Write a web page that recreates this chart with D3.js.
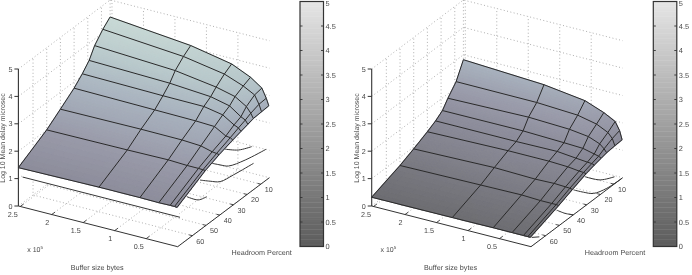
<!DOCTYPE html>
<html>
<head>
<meta charset="utf-8">
<script src="https://cdn.jsdelivr.net/npm/d3@7/dist/d3.min.js"></script>
<style>
  html, body { margin: 0; padding: 0; background: #fff; }
  svg { display: block; will-change: transform; }
  text { font-family: "Liberation Sans", Arial, sans-serif; fill: #4a4a4a; text-rendering: geometricPrecision; }
</style>
</head>
<body>
<svg id="chart" width="692" height="275"></svg>
<script>
// Buffer size in units of 10^5 bytes, headroom in percent
const bufferValues = [2.53, 1.25, 0.6, 0.3, 0.12, 0.05, 0.01];
const headroomValues = [70.7, 50, 40, 30, 24, 19, 15, 9, 3.7];

// Log10 mean delay: one row per buffer value, one entry per headroom value
const delayHigh = [
  [1.40, 2.00, 2.38, 2.77, 3.07, 3.37, 3.76, 4.13, 4.38],
  [1.44, 2.02, 2.40, 2.73, 3.02, 3.29, 3.60, 3.89, 4.09],
  [1.44, 2.04, 2.39, 2.71, 3.01, 3.18, 3.38, 3.63, 3.80],
  [1.43, 2.01, 2.35, 2.68, 2.88, 3.02, 3.21, 3.37, 3.49],
  [1.44, 2.01, 2.24, 2.44, 2.62, 2.73, 2.95, 3.15, 3.20],
  [1.44, 2.00, 2.22, 2.42, 2.55, 2.65, 2.75, 2.85, 2.87],
  [1.43, 2.00, 2.20, 2.36, 2.45, 2.52, 2.58, 2.60, 2.62]
];
const delayLow = [
  [0.32, 0.70, 0.93, 1.18, 1.35, 1.54, 1.84, 2.22, 2.82],
  [0.33, 0.74, 1.00, 1.24, 1.35, 1.55, 1.90, 2.21, 2.66],
  [0.34, 0.76, 0.96, 1.24, 1.37, 1.50, 1.84, 2.13, 2.46],
  [0.34, 0.73, 0.98, 1.21, 1.30, 1.47, 1.75, 1.98, 2.20],
  [0.34, 0.73, 0.96, 1.16, 1.26, 1.37, 1.59, 1.78, 1.98],
  [0.34, 0.73, 0.95, 1.15, 1.25, 1.33, 1.45, 1.60, 1.69],
  [0.34, 0.72, 0.93, 1.13, 1.22, 1.28, 1.33, 1.36, 1.38]
];

// Second mesh underneath, visible only where it leaves the upper surface
const lowerCurvesHigh = [
  { buffer: [2.5, 0], headroom: [69, 69], delay: [1.01, 1.01] },
  { buffer: [0, 0, 0], headroom: [64.1, 55.6, 49.5], delay: [1.58, 1.14, 1.03] },
  { buffer: [0, 0, 0, 0, 0], headroom: [54.4, 47, 39.7, 30, 15.3], delay: [1.82, 1.50, 1.21, 1.09, 0.96] },
  { buffer: [0, 0, 0, 0, 0], headroom: [45.8, 39.7, 33.6, 21.4, 6.1], delay: [2.11, 1.82, 1.55, 1.31, 1.13] },
  { buffer: [0, 0, 0], headroom: [36.1, 26.3, 16.6], delay: [2.26, 1.86, 1.62] }
];
const lowerCurvesLow = [
  { buffer: [0, 0], headroom: [70.2, 64.6], delay: [0.32, 0.13] },
  { buffer: [0, 0, 0], headroom: [51.9, 45.8, 39.7], delay: [0.63, 0.28, 0] },
  { buffer: [0, 0, 0, 0, 0], headroom: [39.7, 32.4, 25.1, 15.3, 4.4], delay: [0.91, 0.55, 0.23, 0.05, 0] },
  { buffer: [0, 0, 0], headroom: [31.2, 20.2, 9.7], delay: [1.07, 0.54, 0.26] }
];

const bufferTicks = [2.5, 2, 1.5, 1, 0.5];
const headroomTicks = [10, 20, 30, 40, 50, 60];
const delayTicks = [0, 1, 2, 3, 4, 5];
const colorbarTicks = [0, 0.5, 1, 1.5, 2, 2.5, 3, 3.5, 4, 4.5, 5];

const bufferLabel = "Buffer size bytes";
const headroomLabel = "Headroom Percent";
const delayLabel = "Log 10 Mean delay microsec";

const surfaceColor = d3.scaleLinear()
  .domain([0, 0.3, 1, 1.4, 2, 2.8, 3.5, 4.4])
  .range(["#666666", "#6c6c70", "#82828c", "#8c8c9a", "#999aa9", "#a9b3bf", "#b8c8cb", "#c9dad6"]);
const barColor = d3.scaleLinear().domain([0, 5]).range(["#5c5c5c", "#e6e6e6"]);

const svg = d3.select("#chart");
const INK = "#2a2a2a";

// Normalised position inside the plot box along each data axis
const uScale = d3.scaleLinear().domain([0, 2.53]).range([0, 1]);
const vScale = d3.scaleLinear().domain([70.7, 3.7]).range([0, 1]);
const wScale = d3.scaleLinear().domain([0, 5]).range([0, 1]);

function drawPanel(originX, delay, lowerCurves, strip) {
  const g = svg.append("g");

  // Oblique projection of the box; originX is the near floor corner
  const project = (b, h, z) => {
    const u = uScale(b), v = vScale(h), w = wScale(z);
    return [
      originX - 159.3 * u + 91.7 * v,
      246.7 - 40.7 * u - 69 * v - 137 * w
    ];
  };
  const path = d3.line();

  // Dotted box grid on the floor and the two rear walls
  const bMax = uScale.domain()[1], hNear = vScale.domain()[0], hFar = vScale.domain()[1], zTop = wScale.domain()[1];
  const dotted = pts => g.append("path").attr("d", path(pts)).attr("fill", "none")
    .attr("stroke", "#9a9a9a").attr("stroke-width", 0.8).attr("stroke-dasharray", "1 2.4");

  bufferTicks.forEach(b => {
    dotted([project(b, hNear, 0), project(b, hFar, 0), project(b, hFar, zTop)]);
  });
  headroomTicks.forEach(h => {
    dotted([project(0, h, 0), project(bMax, h, 0), project(bMax, h, zTop)]);
  });
  delayTicks.forEach(z => {
    dotted([project(bMax, hNear, z), project(bMax, hFar, z), project(0, hFar, z)]);
  });
  dotted([project(bMax, hFar, 0), project(bMax, hFar, zTop)]);
  dotted([project(0, hNear, 0), project(0, hFar, 0)]);

  // White band between the upper surface and the mesh below it
  if (strip) {
    const front = bufferValues.map((b, i) => project(b, headroomValues[0], delay[i][0]));
    const low = strip.buffer.map((b, i) => project(b, strip.headroom[i], strip.delay[i]));
    g.append("path").attr("d", path(front.concat(low.slice().reverse())) + "Z").attr("fill", "#fff");
  }

  lowerCurves.forEach(c => {
    const pts = c.buffer.map((b, i) => project(b, c.headroom[i], c.delay[i]));
    g.append("path").attr("d", d3.line().curve(pts.length > 2 ? d3.curveCatmullRom : d3.curveLinear)(pts))
      .attr("fill", "none").attr("stroke", "#333").attr("stroke-width", 1);
  });

  // Surface: each mesh cell is split into small facets coloured by height
  const steps = 8;
  const facets = g.append("g");
  const blend = (a, b, t) => a + (b - a) * t;
  for (let j = headroomValues.length - 2; j >= 0; j--) {
    for (let i = bufferValues.length - 2; i >= 0; i--) {
      d3.range(steps).forEach(sj => d3.range(steps).forEach(si => {
        const corner = (a, c) => {
          const ta = (si + a) / steps, tc = (sj + c) / steps;
          const b = blend(bufferValues[i], bufferValues[i + 1], ta);
          const h = blend(headroomValues[j], headroomValues[j + 1], tc);
          const z = blend(
            blend(delay[i][j], delay[i + 1][j], ta),
            blend(delay[i][j + 1], delay[i + 1][j + 1], ta),
            tc);
          return { p: project(b, h, z), z };
        };
        const cs = [corner(0, 0), corner(1, 0), corner(1, 1), corner(0, 1)];
        const col = surfaceColor(d3.mean(cs, d => d.z));
        facets.append("path")
          .attr("d", path(cs.map(d => d.p)) + "Z")
          .attr("fill", col).attr("stroke", col)
          .attr("stroke-width", 1.1).attr("stroke-linejoin", "round");
      }));
    }
  }

  // Mesh lines
  const meshLine = pts => g.append("path").attr("d", path(pts)).attr("fill", "none")
    .attr("stroke", INK).attr("stroke-width", 1).attr("stroke-linejoin", "round");
  headroomValues.forEach((h, j) => meshLine(bufferValues.map((b, i) => project(b, h, delay[i][j]))));
  bufferValues.forEach((b, i) => meshLine(headroomValues.map((h, j) => project(b, h, delay[i][j]))));

  // Solid axes
  const axisLine = (a, b, w) => g.append("path").attr("d", path([a, b])).attr("fill", "none")
    .attr("stroke", "#333").attr("stroke-width", w || 1);
  axisLine(project(bMax, hNear, 0), project(bMax, hNear, zTop), 1.1);
  axisLine(project(bMax, hNear, 0), project(0, hNear, 0));
  axisLine(project(0, hNear, 0), project(0, hFar, 0));

  const label = (x, y, s, anchor) => g.append("text").attr("x", x).attr("y", y)
    .attr("font-size", 7.2).attr("text-anchor", anchor).text(s);

  delayTicks.forEach(z => {
    const p = project(bMax, hNear, z);
    axisLine([p[0] - 4, p[1]], p, 1);
    label(p[0] - 6, p[1] + 2.6, d3.format("d")(z), "end");
  });
  bufferTicks.forEach(b => {
    const p = project(b, hNear, 0);
    axisLine(p, [p[0] + 3.2, p[1] - 2.4], 0.9);
    label(p[0] - 2.5, p[1] + 10.2, String(b), "end");
  });
  headroomTicks.forEach(h => {
    const p = project(0, h, 0);
    axisLine(p, [p[0] - 3.2, p[1] - 0.8], 0.9);
    label(p[0] + 4, p[1] + 8, String(h), "start");
  });

  // Exponent and axis titles
  const scaleText = g.append("text").attr("x", originX - 150.5).attr("y", 251.5).attr("font-size", 7);
  scaleText.append("tspan").text("x 10");
  scaleText.append("tspan").attr("font-size", 4.5).attr("dy", -2.5).text("5");
  label(originX - 80.5, 269.5, bufferLabel, "middle");
  label(originX + 84, 254.5, headroomLabel, "middle");
  g.append("text").attr("transform", `translate(${originX - 172.5},138) rotate(-90)`)
    .attr("font-size", 7).attr("text-anchor", "middle").text(delayLabel);

  // Colour bar
  const barX = originX + 122.3, barW = 23.5, barTop = 1.5, barBottom = 246.5;
  const barY = d3.scaleLinear().domain([0, 5]).range([barBottom, barTop]);
  const levels = d3.range(0, 5, 0.05);
  g.selectAll("rect.level").data(levels).join("rect").attr("class", "level")
    .attr("x", barX).attr("width", barW)
    .attr("y", d => barY(d + 0.05)).attr("height", d => barY(d) - barY(d + 0.05) + 0.4)
    .attr("fill", d => barColor(d));
  g.append("rect").attr("x", barX).attr("y", barTop).attr("width", barW).attr("height", barBottom - barTop)
    .attr("fill", "none").attr("stroke", "#333").attr("stroke-width", 1.2);
  colorbarTicks.forEach(t => {
    const y = barY(t);
    axisLine([barX, y], [barX + 2.5, y], 0.9);
    axisLine([barX + barW - 2.5, y], [barX + barW, y], 0.9);
    g.append("text").attr("x", barX + barW + 2).attr("y", Math.max(y + 2.6, 6.2)).attr("font-size", 7.4).text(String(t));
  });
}

drawPanel(177.7, delayHigh, lowerCurvesHigh, lowerCurvesHigh[0]);
drawPanel(185.0 + 346, delayLow, lowerCurvesLow, null);
</script>
</body>
</html>
